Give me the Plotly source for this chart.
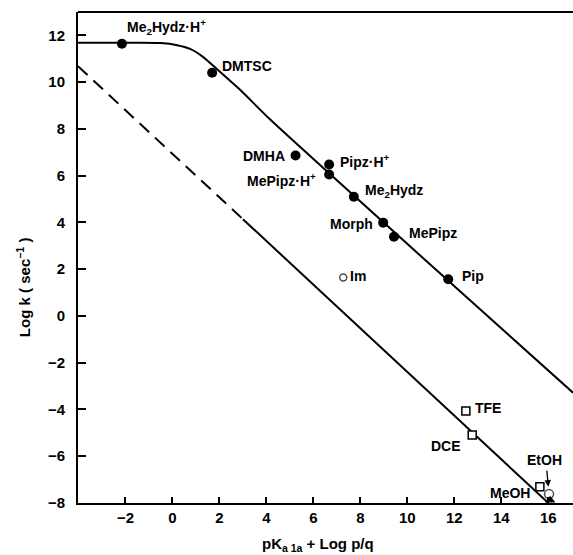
import plotly.graph_objects as go

# Filled-circle compounds
fill_names = ["Me<sub>2</sub>Hydz·H<sup>+</sup>", "DMTSC", "DMHA", "Pipz·H<sup>+</sup>",
              "MePipz·H<sup>+</sup>", "Me<sub>2</sub>Hydz", "Morph", "MePipz", "Pip"]
fill_x = [-2.15, 1.69, 5.24, 6.67, 6.67, 7.72, 8.97, 9.43, 11.74]
fill_y = [11.64, 10.40, 6.86, 6.48, 6.05, 5.10, 3.99, 3.39, 1.57]

# Open circles
open_names = ["Im", "EtOH"]
open_x = [7.27, 16.03]
open_y = [1.64, -7.62]

# Open squares
sq_names = ["TFE", "DCE", "MeOH"]
sq_x = [12.49, 12.76, 15.64]
sq_y = [-4.06, -5.09, -7.31]

# Filled triangle on the axis
tri_x = [16.08]
tri_y = [-7.88]

# Upper (curved) line
curve_x = [-4.02, -1.8, -0.5, 0.2, 0.75, 1.3, 1.9, 2.9, 4.15, 10.96, 17.05]
curve_y = [11.68, 11.68, 11.67, 11.58, 11.42, 11.08, 10.55, 9.65, 8.41, 2.21, -3.28]

# Lower line: dashed then solid
dash_x = [-4.02, 3.0]
dash_y = [10.68, 4.14]
solid_x = [3.0, 16.0]
solid_y = [4.14, -8.0]

x_ticks = [-2, 0, 2, 4, 6, 8, 10, 12, 14, 16]
y_ticks = [-8, -6, -4, -2, 0, 2, 4, 6, 8, 10, 12]

FONT = "Liberation Sans"
fig = go.Figure()

fig.add_trace(go.Scatter(x=curve_x, y=curve_y, mode="lines", line=dict(color="black", width=2, shape="spline", smoothing=0.6)))
fig.add_trace(go.Scatter(x=dash_x, y=dash_y, mode="lines", line=dict(color="black", width=2, dash="13px,8px")))
fig.add_trace(go.Scatter(x=solid_x, y=solid_y, mode="lines", line=dict(color="black", width=2)))

fig.add_trace(go.Scatter(x=fill_x, y=fill_y, mode="markers", marker=dict(symbol="circle", size=10, color="black")))
fig.add_trace(go.Scatter(x=open_x, y=open_y, mode="markers",
                         marker=dict(symbol="circle-open", size=[7, 9], color="black", line=dict(width=1.5))))
fig.add_trace(go.Scatter(x=sq_x, y=sq_y, mode="markers",
                         marker=dict(symbol="square", size=8, color="white", line=dict(width=1.5, color="black"))))
fig.add_trace(go.Scatter(x=tri_x, y=tri_y, mode="markers", cliponaxis=False,
                         marker=dict(symbol="triangle-up", size=9, color="black")))

# Labels: (text, x, y, xanchor)
labels = [
    (fill_names[0], -2.02, 12.34, "left"),
    (fill_names[1], 2.02, 10.71, "left"),
    (fill_names[2], 4.87, 6.82, "right"),
    (fill_names[3], 7.04, 6.61, "left"),
    (fill_names[4], 6.19, 5.80, "right"),
    (fill_names[5], 8.11, 5.35, "left"),
    (fill_names[6], 8.62, 3.95, "right"),
    (fill_names[7], 9.98, 3.56, "left"),
    (fill_names[8], 12.23, 1.70, "left"),
    (open_names[0], 7.47, 1.70, "left"),
    (sq_names[0], 12.79, -3.92, "left"),
    (sq_names[1], 12.36, -5.57, "right"),
    (open_names[1], 15.85, -6.17, "center"),
    (sq_names[2], 15.3, -7.58, "right"),
]
for t, x, y, xa in labels:
    fig.add_annotation(x=x, y=y, text=t, showarrow=False, xanchor=xa, yanchor="middle",
                       font=dict(family=FONT, size=14, color="black", weight="bold"))

# Arrow from EtOH label to its point
fig.add_annotation(x=16.0, y=-7.3, ax=15.93, ay=-6.55, axref="x", ayref="y", xref="x", yref="y",
                   text="", showarrow=True, arrowhead=2, arrowsize=1, arrowwidth=1.3, arrowcolor="black")

# Axis titles
fig.add_annotation(xref="paper", yref="paper", x=(318-78)/495, y=-(545-503)/491.3, text="pK<sub>a 1a</sub> + Log p/q",
                   showarrow=False, xanchor="center", yanchor="middle",
                   font=dict(family=FONT, size=15, color="black", weight="bold"))
fig.add_annotation(xref="paper", yref="paper", x=-(78-23)/495, y=(503-287)/491.3, text="Log k ( sec<sup>−1</sup> )",
                   textangle=-90, showarrow=False, xanchor="center", yanchor="middle",
                   font=dict(family=FONT, size=15, color="black", weight="bold"))

# Top frame line
fig.add_shape(type="line", xref="paper", yref="paper", x0=0, x1=1, y0=1, y1=1, line=dict(color="black", width=2))

fig.update_xaxes(range=[-4.02, 17.05], tickvals=x_ticks, ticks="inside", ticklen=6, tickwidth=1.5, tickcolor="black",
                 showline=True, linecolor="black", linewidth=2, showgrid=False, zeroline=False,
                 tickfont=dict(family=FONT, size=15, color="black", weight="bold"))
fig.update_yaxes(range=[-8, 13], tickvals=y_ticks, ticks="inside", ticklen=8, tickwidth=1.5, tickcolor="black",
                 showline=True, linecolor="black", linewidth=2, showgrid=False, zeroline=False,
                 ticklabelstandoff=8, tickfont=dict(family=FONT, size=15, color="black", weight="bold"))

fig.update_layout(width=573, height=555, margin=dict(l=78, r=0, t=12, b=52), showlegend=False,
                  plot_bgcolor="white", paper_bgcolor="white")

fig.write_html("out.html")
